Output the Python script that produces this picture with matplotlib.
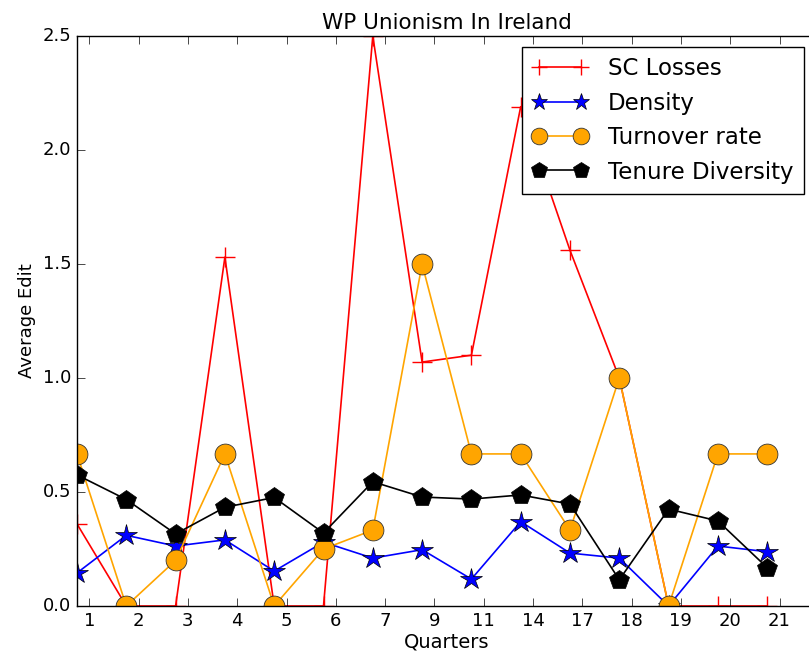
import matplotlib
matplotlib.use("Agg")
import matplotlib.pyplot as plt
import numpy as np

# Data
quarters = ['1', '2', '3', '4', '5', '6', '7', '9', '11', '14', '17', '18', '19', '20', '21']
sc_losses = [0.36, 0, 0, 1.53, 0, 0, 2.5, 1.07, 1.10, 2.19, 1.56, 1.0, 0, 0, 0]
density = [0.145, 0.31, 0.263, 0.29, 0.153, 0.28, 0.21, 0.247, 0.118, 0.37, 0.232, 0.21, 0.0, 0.263, 0.238]
turnover = [0.667, 0, 0.2, 0.667, 0, 0.25, 0.333, 1.5, 0.667, 0.667, 0.333, 1.0, 0, 0.667, 0.667]
tenure = [0.575, 0.467, 0.316, 0.433, 0.476, 0.32, 0.545, 0.478, 0.469, 0.487, 0.447, 0.115, 0.425, 0.373, 0.168]

plt.style.use('classic')

fig = plt.figure(figsize=(8.09, 6.56), dpi=100, facecolor='white')
ax = fig.add_axes([77 / 809, 50 / 656, 739.5 / 809, 570 / 656])

x = np.arange(len(quarters))

# Plot the four series
ax.plot(x, sc_losses, color='red', marker='+', markersize=15, markeredgewidth=1.0,
        linewidth=1.2, label='SC Losses')
ax.plot(x, density, color='blue', marker='*', markersize=16, markeredgewidth=0.5,
        linewidth=1.2, label='Density')
ax.plot(x, turnover, color='orange', marker='o', markersize=15, markeredgewidth=0.6,
        markeredgecolor='#333333', linewidth=1.2, label='Turnover rate')
ax.plot(x, tenure, color='black', marker='p', markersize=15, markeredgewidth=0.5,
        linewidth=1.2, label='Tenure Diversity')

ax.set_xlim(0, 15)
ax.set_ylim(0, 2.5)
ax.set_xticks(x + 0.25)
ax.set_xticklabels(quarters)
ax.set_yticks([0.0, 0.5, 1.0, 1.5, 2.0, 2.5])
ax.tick_params(labelsize=13, length=6)

ax.set_title('WP Unionism In Ireland', fontsize=15.5)
ax.set_xlabel('Quarters', fontsize=14, labelpad=2)
ax.set_ylabel('Average Edit', fontsize=13)

ax.legend(loc='upper right', bbox_to_anchor=(0.983, 0.981), borderaxespad=0,
          fontsize=16.5, numpoints=2, fancybox=False, handlelength=2.4,
          borderpad=0.45, labelspacing=0.5, handletextpad=0.9, markerscale=0.8)

fig.savefig('out.png', dpi=100, facecolor='white')
